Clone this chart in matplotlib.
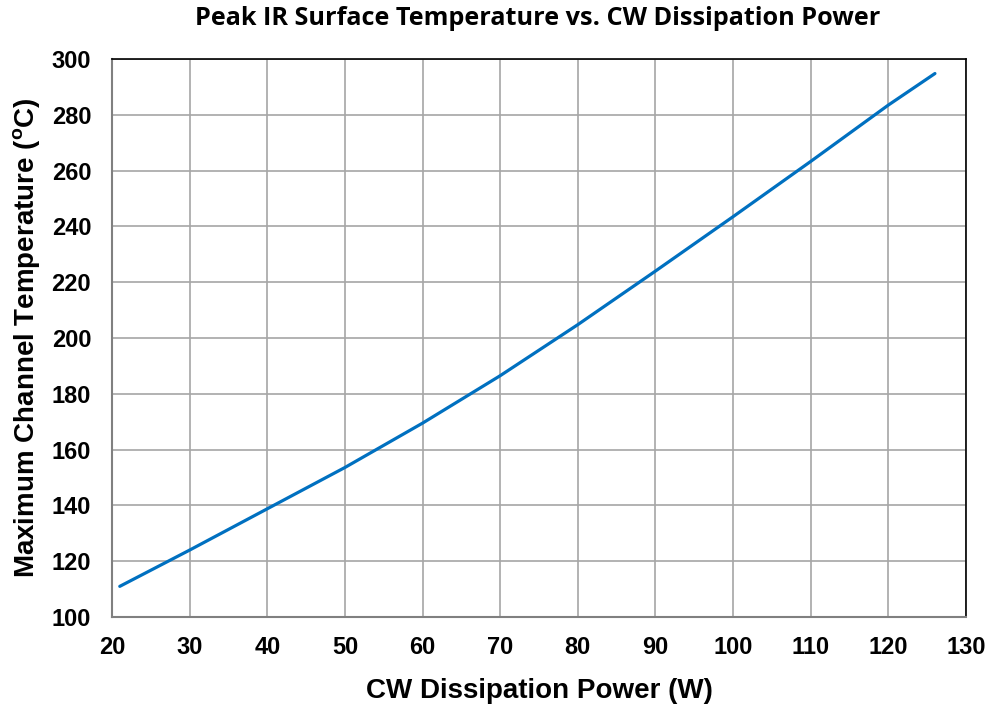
import matplotlib
matplotlib.use('Agg')
import matplotlib.pyplot as plt

# values
power_w = [21, 30, 40, 50, 60, 70, 80, 90, 100, 110, 120, 126]
temp_c = [111, 124, 138.8, 153.6, 169.5, 186.5, 204.8, 224, 243.5, 263.3, 283.5, 294.8]

x_ticks = list(range(20, 131, 10))
y_ticks = list(range(100, 301, 20))

plt.rcParams['font.family'] = ['Liberation Sans', 'DejaVu Sans']
plt.rcParams['mathtext.fontset'] = 'custom'
plt.rcParams['mathtext.bf'] = 'Liberation Sans:bold'
plt.rcParams['mathtext.rm'] = 'Liberation Sans:bold'

fig = plt.figure(figsize=(9.93, 7.06), dpi=100)
ax = fig.add_axes([0.1128, 0.126, 0.86, 0.7904])

ax.plot(power_w, temp_c, color='#0070C0', linewidth=2.3, solid_capstyle='round')

ax.set_xlim(20, 130)
ax.set_ylim(100, 300)
ax.set_xticks(x_ticks)
ax.set_yticks(y_ticks)
ax.tick_params(axis='y', length=0, labelsize=17, pad=15)
ax.tick_params(axis='x', length=0, labelsize=17, pad=14)
for lab in ax.get_xticklabels() + ax.get_yticklabels():
    lab.set_fontweight('bold')

ax.grid(True, color='#a6a6a6', linewidth=1.2)
ax.set_axisbelow(True)
for side in ['left', 'bottom']:
    ax.spines[side].set_color('#808080')
    ax.spines[side].set_linewidth(1.5)
for side in ['top', 'right']:
    ax.spines[side].set_color('#000000')
    ax.spines[side].set_linewidth(1.2)

ax.set_xlabel('CW Dissipation Power (W)', fontsize=20, fontweight='bold', labelpad=13)
ax.set_ylabel(r'Maximum Channel Temperature ($^{\mathrm{o}}$C)', fontsize=20,
              fontweight='bold', labelpad=6)

fig.text(0.5413, 0.974, 'Peak IR Surface Temperature vs. CW Dissipation Power',
         ha='center', va='center', fontsize=18.2, fontweight='bold',
         family=['Open Sans', 'DejaVu Sans'])

fig.savefig('out.png', dpi=100)
